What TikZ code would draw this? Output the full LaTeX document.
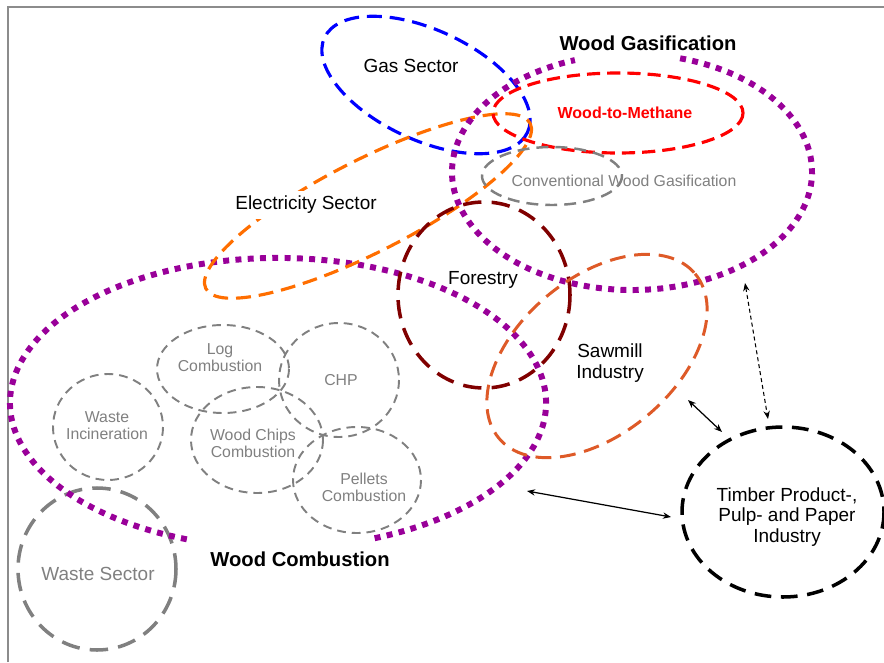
\documentclass[tikz,border=0pt]{standalone}
\usepackage{fontspec}
\setmainfont{Liberation Sans}
\usetikzlibrary{arrows.meta}
\definecolor{woodpurple}{RGB}{153,0,153}
\definecolor{gasblue}{RGB}{0,0,255}
\definecolor{methanered}{RGB}{255,0,0}
\definecolor{powerorange}{RGB}{255,110,0}
\definecolor{forestred}{RGB}{128,0,0}
\definecolor{sawmillorange}{RGB}{222,90,40}
\definecolor{techgray}{RGB}{128,128,128}
\definecolor{framegray}{RGB}{140,140,140}

\begin{document}
\begin{tikzpicture}[x=0.02cm,y=-0.02cm,line cap=butt,
  >={Stealth[length=4.6pt,width=3.6pt]},
  cluster/.style={draw=woodpurple,line width=3.4pt,dash pattern=on 3.4pt off 3.6pt},
  sector/.style={line width=1.8pt,dash pattern=on 8.5pt off 4.5pt},
  heavyring/.style={line width=2pt,dash pattern=on 10.5pt off 5.8pt},
  techring/.style={draw=techgray,line width=1.1pt,dash pattern=on 5pt off 3.4pt},
  sectorlabel/.style={font=\fontsize{10.8}{11.6}\selectfont,align=center,inner sep=1pt},
  clusterlabel/.style={font=\fontsize{11.5}{13}\selectfont\bfseries,inner sep=0pt},
  techlabel/.style={font=\fontsize{9}{9.6}\selectfont,text=techgray,align=center,inner sep=0pt},
  link/.style={<->,line width=0.7pt}]
 \useasboundingbox (0,0) rectangle (884,662);
 \draw[framegray,line width=1.1pt] (8,662) -- (8,7) -- (884,7);

 % combustion side
 \draw[techring] (223,369) ellipse (66 and 44);
 \draw[techring] (339,380) ellipse (60 and 57);
 \draw[techring] (108,427) ellipse (55 and 53);
 \draw[techring] (257,440) ellipse (66 and 53);
 \draw[techring] (357,480) ellipse (64 and 53);
 \draw[heavyring,techgray,line width=2pt] (97,569) ellipse (79 and 81);
 \draw[cluster] (186.8,539.3) arc[start angle=109.9,end angle=429.9,x radius=268,y radius=145];

 % gasification side
 \draw[sector,gasblue] (426,85) [rotate around={-25:(426,85)}] ellipse (112 and 55);
 \draw[sector,powerorange] (368,206) [rotate around={27:(368,206)}] ellipse (182 and 46);
 \draw[sector,methanered,dash pattern=on 7.5pt off 4pt] (618,113) ellipse (125 and 40);
 \draw[techgray,line width=1.4pt,dash pattern=on 6.8pt off 4pt] (552,176) ellipse (70 and 29);
 \draw[cluster] (680.1,58.3) arc[start angle=285.5,end angle=611.5,x radius=180,y radius=118];

 % industry
 \draw[heavyring,forestred] (484,295) ellipse (86 and 93);
 \draw[sawmillorange,line width=1.7pt,dash pattern=on 9pt off 5pt]
  (597,356) [rotate around={40:(597,356)}] ellipse (128 and 78);
 \draw[heavyring,black,dash pattern=on 9.5pt off 5.5pt] (783,512) ellipse (101 and 85);

 \node[sectorlabel] (gas) at (411,66) {Gas Sector};
 \node[sectorlabel,fill=white,inner sep=3pt] (power) at (306,205) {Electricity Sector};
 \node[clusterlabel] (gasif) at (648,43) {Wood Gasification};
 \node[font=\fontsize{9.1}{11}\selectfont\bfseries,text=methanered] (methane) at (625,113) {Wood-to-Methane};
 \node[font=\fontsize{9}{10}\selectfont,text=techgray] (convgas) at (624,181) {Conventional Wood Gasification};
 \node[sectorlabel] (forestry) at (483,280) {Forestry};
 \node[sectorlabel] (sawmill) at (610,363) {Sawmill\\Industry};
 \node[sectorlabel] (timber) at (787,517) {Timber Product-,\\Pulp- and Paper\\Industry};
 \node[techlabel] (logcomb) at (220,358) {Log\\Combustion};
 \node[techlabel] (chp) at (341,380) {CHP};
 \node[techlabel] (wasteinc) at (107,426) {Waste\\Incineration};
 \node[techlabel] (chips) at (253,443) {Wood Chips\\Combustion};
 \node[techlabel] (pellets) at (364,487) {Pellets\\Combustion};
 \node[sectorlabel,text=techgray] (waste) at (98,574) {Waste Sector};
 \node[clusterlabel] (comb) at (300,559) {Wood Combustion};

 \coordinate (gasifend) at (745,283);
 \coordinate (timbertop) at (768,419);
 \coordinate (sawend) at (688,400);
 \coordinate (timberleft) at (722,432);
 \coordinate (combend) at (527,491);
 \coordinate (timberwest) at (671,517);
 \draw[link,line width=0.6pt,dash pattern=on 2.3pt off 1.7pt] (gasifend) -- (timbertop);
 \draw[link] (sawend) -- (timberleft);
 \draw[link] (combend) -- (timberwest);
\end{tikzpicture}
\end{document}
